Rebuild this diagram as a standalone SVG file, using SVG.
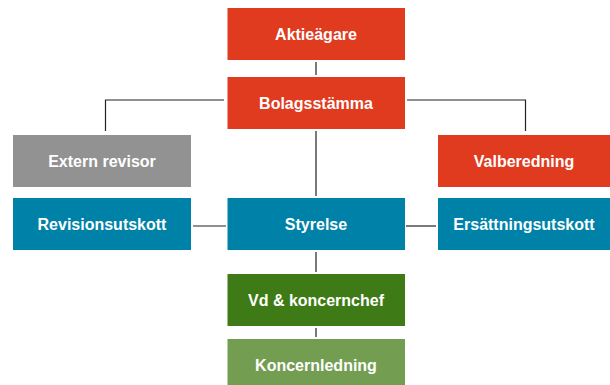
<svg xmlns="http://www.w3.org/2000/svg" width="610" height="385" viewBox="0 0 610 385">
<style>
.t{font-family:"Liberation Sans",Arial,sans-serif;font-weight:bold;font-size:16px;fill:#fff;text-anchor:middle}
.red{fill:#e03a1f}.gray{fill:#929292}.blue{fill:#0082a8}.dg{fill:#3e7b16}.lg{fill:#739d51}
#connectors path{stroke:#222;stroke-width:1.2;fill:none}
</style>
<rect width="610" height="385" fill="#fff"/>
<g id="connectors">
<path d="M316 62V75"/>
<path d="M224 100H105.5V131"/>
<path d="M407 100H525.5V131"/>
<path d="M316 131V196"/>
<path d="M193 226H226"/>
<path d="M406 226H436"/>
<path d="M316 252V272"/>
<path d="M316 328V337"/>
</g>
<g id="aktieagare"><rect class="red" x="227.5" y="8" width="177.5" height="52"/><text class="t" x="316" y="40">Aktieägare</text></g>
<g id="bolagsstamma"><rect class="red" x="227.5" y="77" width="177.5" height="52"/><text class="t" x="316" y="109">Bolagsstämma</text></g>
<g id="extern-revisor"><rect class="gray" x="13" y="135" width="178" height="52"/><text class="t" x="102" y="167">Extern revisor</text></g>
<g id="valberedning"><rect class="red" x="438" y="135" width="172" height="52"/><text class="t" x="524" y="167">Valberedning</text></g>
<g id="revisionsutskott"><rect class="blue" x="13" y="198" width="178" height="52"/><text class="t" x="102" y="230">Revisionsutskott</text></g>
<g id="styrelse"><rect class="blue" x="227.5" y="198" width="177.5" height="52"/><text class="t" x="316" y="230">Styrelse</text></g>
<g id="ersattningsutskott"><rect class="blue" x="438" y="198" width="172" height="52"/><text class="t" x="524" y="230">Ersättningsutskott</text></g>
<g id="vd"><rect class="dg" x="227.5" y="274" width="177.5" height="52"/><text class="t" x="316" y="306">Vd &amp; koncernchef</text></g>
<g id="koncernledning"><rect class="lg" x="227.5" y="339" width="177.5" height="46"/><text class="t" x="316" y="371">Koncernledning</text></g>
</svg>
